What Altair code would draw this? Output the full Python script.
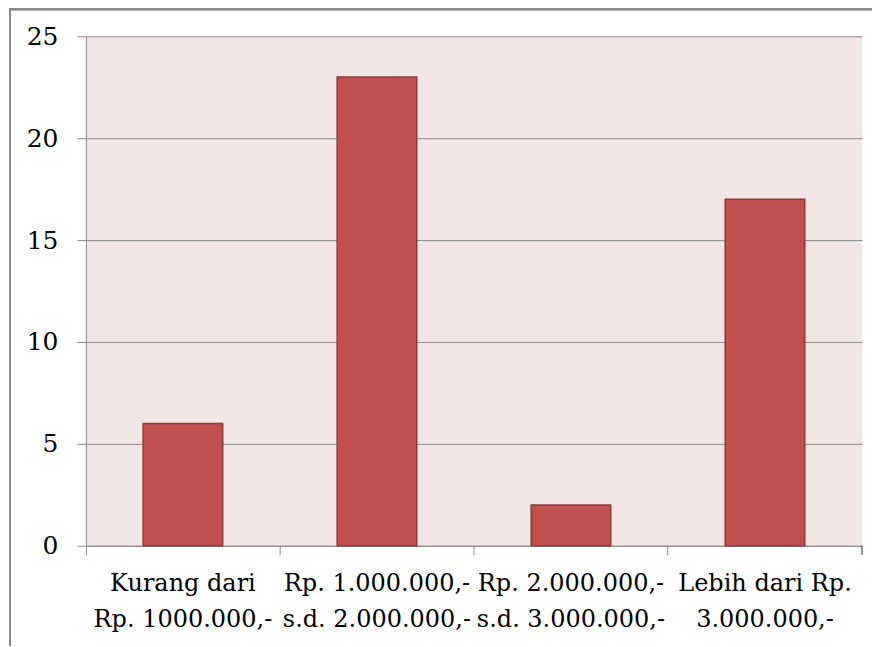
import altair as alt
import pandas as pd

categories = [
    "Kurang dari\nRp. 1000.000,-",
    "Rp. 1.000.000,-\ns.d. 2.000.000,-",
    "Rp. 2.000.000,-\ns.d. 3.000.000,-",
    "Lebih dari Rp.\n3.000.000,-",
]
values = [6, 23, 2, 17]
y_ticks = [0, 5, 10, 15, 20, 25]

df = pd.DataFrame({"kategori": categories, "jumlah": values})

FONT = "DejaVu Serif"
FS = 24
GRAY = "#8a8a8a"
W, H = 777, 510

bars = alt.Chart(df).mark_bar(
    color="#c0504d", stroke="#8c3a38", strokeWidth=1.5, width={"band": 0.41}
).encode(
    x=alt.X(
        "kategori:N",
        sort=categories,
        scale=alt.Scale(paddingInner=0, paddingOuter=0),
        axis=alt.Axis(
            title=None,
            labelAngle=0,
            labelExpr="split(datum.label, '\\n')",
            labelLineHeight=36,
            labelFont=FONT,
            labelFontSize=FS,
            labelColor="black",
            labelPadding=17,
            labelLimit=0,
            tickSize=9,
            tickColor=GRAY,
            domainColor=GRAY,
            bandPosition=0,
            grid=False,
        ),
    ),
    y=alt.Y(
        "jumlah:Q",
        scale=alt.Scale(domain=[0, 25], nice=False),
        axis=alt.Axis(
            title=None,
            values=y_ticks,
            labelFont=FONT,
            labelFontSize=25,
            labelColor="black",
            labelPadding=19,
            tickSize=9,
            tickColor=GRAY,
            domainColor=GRAY,
            gridColor=GRAY,
            gridWidth=1,
        ),
    ),
)

# last x tick at right end of axis (decoration)
end_tick = alt.Chart(df).mark_rule(color=GRAY, strokeWidth=1).encode(
    x=alt.value(W), y=alt.value(H), y2=alt.value(H + 9)
)
# outer chart frame (decoration)
frame_left = alt.Chart(df).mark_rule(color=GRAY, strokeWidth=2).encode(
    x=alt.value(-76), y=alt.value(-27), y2=alt.value(H + 120)
)
frame_top = alt.Chart(df).mark_rule(color=GRAY, strokeWidth=2).encode(
    x=alt.value(-77), x2=alt.value(W + 20), y=alt.value(-27)
)

chart = alt.layer(bars, end_tick, frame_left, frame_top).properties(
    width=W,
    height=H,
    autosize=alt.AutoSizeParams(type="none"),
    padding={"left": 78, "top": 28, "right": 10, "bottom": 100},
    background="white",
).configure_view(
    fill="#f2e6e6", stroke=None
)

chart.save("out.html", embed_options={"renderer": "svg", "actions": False})
